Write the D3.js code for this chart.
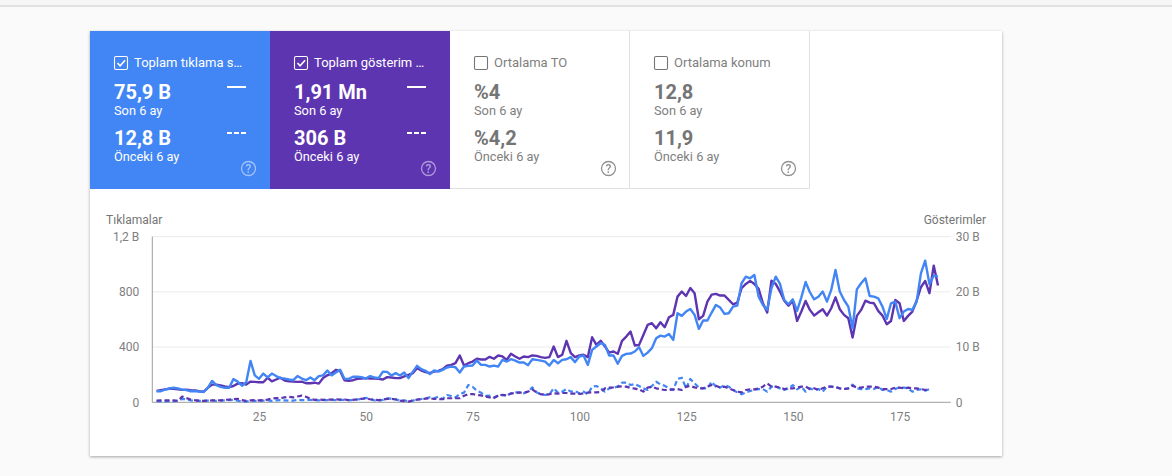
<!DOCTYPE html>
<html>
<head>
<meta charset="utf-8">
<script src="https://cdn.jsdelivr.net/npm/d3@7"></script>
<style>
  html, body { margin: 0; padding: 0; background: #fafafa; overflow: hidden; }
  svg { display: block; font-family: Roboto, sans-serif; }
</style>
</head>
<body>
<div id="body"></div>
<script>
// clicks, last 6 months (left axis)
var clicksNow = [80,80,92,100,105,100,92,88,80,82,78,75,105,155,125,112,105,105,168,150,120,145,300,195,170,208,180,208,190,175,172,165,160,190,172,160,180,160,190,195,230,195,215,235,170,170,185,185,182,172,190,180,175,222,220,
  194,211,194,216,175,220,264,240,228,204,230,223,235,252,259,254,216,259,264,266,302,271,271,259,266,259,307,295,312,302,288,288,269,312,307,302,295,266,307,283,307,312,327,291,332,339,271,380,404,428,416,339,339,279,336,351,353,368,399,336,360,392,464,483,476,495,452,645,626,657,676,633,532,592,592,650,705,686,640,645,693,700,862,910,898,922,765,705,669,826,910,857,741,710,746,662,760,871,797,746,765,802,729,814,958,802,741,693,536,818,862,898,770,765,753,693,604,717,729,609,657,676,669,729,934,1026,857,917,910];

// impressions, last 6 months, in B (right axis)
var imprNow = [2.05,2.2,2.33,2.45,2.45,2.35,2.25,2.3,2.2,2.13,2,1.9,2.63,3.2,3.2,3.05,2.88,2.75,2.95,3.38,3.45,3.2,3.75,3.7,3.63,3.63,4.45,3.8,4.13,4.45,3.95,3.8,3.75,3.7,3.75,3.45,3.45,3.55,3.38,4.38,4.88,5.25,5.88,5.63,4,3.88,4,4.25,4.3,4.38,4.3,4.3,4.25,4.13,4.55,
  4.5,4.38,4.38,4.68,4.98,5.28,6.18,5.75,5.45,5.28,5.58,5.7,6,6.65,6.78,7.08,8.48,6.65,7.08,7.38,7.88,7.75,7.75,8.23,7.88,8.48,8.3,7.68,8.78,8.3,7.88,8.3,8.18,8.48,8.4,8.18,8.05,8.18,10.1,8.18,8.6,11.13,8.9,8.18,8.48,8.6,8.18,11.78,10.4,11.13,10.1,9,9.2,8.78,11.13,11.9,12.8,10.28,10.4,12.2,14,14.33,13.4,14.5,13.6,15.4,15.83,19.13,20.05,19.25,20.7,19.75,15.03,15.65,18.23,19.5,19.63,19.33,19.33,18.53,17.75,18.05,20.65,21.43,21.98,21.43,20.53,17.93,16.25,22.03,21.43,20.05,18.4,17.5,18.4,14.73,16.43,18.35,16.73,15.7,16.3,16.85,15.7,17.03,19,16.85,15.83,15.23,11.73,15.65,16.73,18.4,18.05,17.93,16.55,15.7,14.13,14.73,18.53,17.93,14.73,15.65,16.43,18.4,20.83,21.98,19.75,24.75,21.13];

// clicks, previous 6 months
var clicksPrev = [8,6,6,8,8,10,25,22,14,10,10,10,12,12,10,12,14,16,18,12,6,5,12,10,10,12,14,10,14,16,14,12,12,18,16,16,18,15,14,16,16,18,16,18,18,16,16,20,25,32,24,14,12,18,28,26,22,12,15,
  5,12,22,24,29,36,29,41,24,53,46,36,60,70,125,113,84,70,46,48,34,53,53,48,65,72,72,65,77,108,72,60,53,58,101,70,77,96,77,82,65,77,58,113,118,101,77,101,106,113,142,142,125,132,118,101,89,118,149,130,120,101,89,169,178,
  101,169,137,108,101,101,149,113,106,125,113,89,72,58,72,82,89,96,96,77,113,113,101,89,101,125,94,113,77,101,89,96,77,113,113,113,101,96,101,128,101,96,96,101,96,113,89,89,77,96,108,106,101,77,89,94,84,96];

// impressions, previous 6 months, in B
var imprPrev = [.3,.35,.35,.35,.35,.25,1.05,.75,.5,.38,.3,.25,.3,.35,.38,.35,.45,.5,.55,.63,.38,.25,.35,.38,.35,.4,.5,.7,.75,.75,.88,1,.88,1.05,1.2,1,.63,.45,.5,.45,.5,.5,.55,.5,.5,.38,.45,.55,.63,.7,.55,.45,.38,.5,.63,.63,.5,.3,.2,
  .13,.35,.48,.55,.65,.73,.6,.6,.55,.73,.73,.73,.73,1.2,1.45,1.5,1.33,1.25,1.03,.9,.78,1.2,1.33,1.25,1.58,1.68,1.75,1.75,1.93,2.35,1.75,1.45,1.45,1.45,1.63,1.58,1.68,1.68,1.58,1.58,1.5,1.63,1.75,1.8,1.8,1.88,2.53,2.65,2.7,2.83,2.9,2.83,2.6,2.48,2.35,1.93,2.65,2.83,2.53,2.35,2.23,2.23,2.35,2.4,2.23,
  2.83,2.95,2.7,2.53,2.53,2.83,3.13,3,2.65,2.83,2.53,2.23,1.93,1.8,2.23,2.35,2.35,2.53,2.83,3.43,2.83,2.83,2.65,2.4,2.53,2.53,2.65,2.83,2.83,2.4,2.53,2.23,2.53,2.83,2.83,2.7,2.53,2.4,2.53,3,2.65,2.65,2.83,2.83,2.83,2.65,2.4,2.4,2.4,2.65,2.65,2.53,2.65,2.53,2.53,2.4,2.23,2.4];

var xTicks = [25, 50, 75, 100, 125, 150, 175];
var leftTicks = [0, 400, 800, 1200];
var leftLabels = ['0', '400', '800', '1,2 B'];
var rightTicks = [0, 10, 20, 30];
var rightLabels = ['0', '10 B', '20 B', '30 B'];

var tileTitles = ['Toplam tıklama s…', 'Toplam gösterim …', 'Ortalama TO', 'Ortalama konum'];
var tileNow = ['75,9 B', '1,91 Mn', '%4', '12,8'];
var tilePrev = ['12,8 B', '306 B', '%4,2', '11,9'];
var tileFills = ['#4285f4', '#5e35b1', '#ffffff', '#ffffff'];
var tileChecked = [true, true, false, false];

var BLUE = '#4285f4', PURPLE = '#5e35b1', GREY = '#757575', TICK = '#808080';

var svg = d3.select('#body').append('svg')
    .attr('width', 1172)
    .attr('height', 476);

// page top strip and card
svg.append('rect').attr('width', 1172).attr('height', 5).attr('fill', '#f6f6f6');
svg.append('rect').attr('y', 5).attr('width', 1172).attr('height', 2).attr('fill', '#e2e2e2');

var shadow = svg.append('defs').append('filter').attr('id', 'shadow')
    .attr('x', '-3%').attr('y', '-3%').attr('width', '106%').attr('height', '108%');
shadow.append('feDropShadow').attr('dx', 0).attr('dy', 1).attr('stdDeviation', 1.6)
    .attr('flood-color', '#000').attr('flood-opacity', 0.35);

svg.append('rect')
    .attr('x', 90).attr('y', 31).attr('width', 912).attr('height', 425)
    .attr('fill', '#fff').attr('filter', 'url(#shadow)');

// tiles
function makeTile (i) {
  var on = tileChecked[i];
  var ink = on ? '#fff' : GREY;
  var g = svg.append('g').attr('transform', 'translate(' + (90 + i * 180) + ',31)');

  g.append('rect')
      .attr('width', 180).attr('height', 158)
      .attr('fill', tileFills[i]);

  // white tiles only show a right and a bottom edge
  if (!on) {
    g.append('path').attr('d', 'M0 157.5H179.5V0')
        .attr('fill', 'none').attr('stroke', '#e0e0e0');
  }

  // checkbox
  g.append('rect')
      .attr('x', 24.5).attr('y', 25.5).attr('width', 13).attr('height', 13).attr('rx', 1.5)
      .attr('fill', 'none').attr('stroke', ink).attr('stroke-width', 1.1);
  if (on) {
    g.append('path').attr('d', 'M27.5 32l2.6 2.8 5-5.6')
        .attr('fill', 'none').attr('stroke', '#fff').attr('stroke-width', 1.6);
  }

  g.append('text').attr('x', 44).attr('y', 35.5)
      .attr('font-size', 13).attr('fill', on ? '#fff' : TICK).text(tileTitles[i]);

  g.append('text').attr('x', 24).attr('y', 67.5)
      .attr('font-size', 20).attr('font-weight', 700).attr('fill', ink).text(tileNow[i]);
  g.append('text').attr('x', 24).attr('y', 84)
      .attr('font-size', 12.8).attr('fill', on ? '#fff' : TICK).text('Son 6 ay');
  g.append('text').attr('x', 24).attr('y', 113.5)
      .attr('font-size', 20).attr('font-weight', 700).attr('fill', ink).text(tilePrev[i]);
  g.append('text').attr('x', 24).attr('y', 130)
      .attr('font-size', 12.8).attr('fill', on ? '#fff' : TICK).text('Önceki 6 ay');

  if (on) {
    g.append('line').attr('x1', 137).attr('x2', 156).attr('y1', 56).attr('y2', 56)
        .attr('stroke', '#fff').attr('stroke-width', 2);
    g.append('line').attr('x1', 137).attr('x2', 156).attr('y1', 102).attr('y2', 102)
        .attr('stroke', '#fff').attr('stroke-width', 2).attr('stroke-dasharray', '5 2');
  }

  // help icon
  var help = g.append('g').attr('opacity', on ? 0.5 : 0.8);
  help.append('circle').attr('cx', 158.5).attr('cy', 137.5).attr('r', 7)
      .attr('fill', 'none').attr('stroke', on ? '#fff' : GREY).attr('stroke-width', 1.3);
  help.append('text').attr('x', 158.5).attr('y', 141.8).attr('text-anchor', 'middle')
      .attr('font-size', 12).attr('font-weight', 500).attr('fill', on ? '#fff' : GREY).text('?');
}
tileTitles.forEach(function (t, i) { makeTile(i); });

// chart
var x = d3.scaleLinear().domain([0, 187]).range([152.3, 950.8]);
var yLeft = d3.scaleLinear().domain([0, 1200]).range([402.3, 236.6]);
var yRight = d3.scaleLinear().domain([0, 30]).range([402.3, 236.6]);

function styleAxis (sel) {
  sel.select('.domain').remove();
  sel.selectAll('text')
      .attr('font-family', 'Roboto, sans-serif')
      .attr('font-size', 12)
      .attr('fill', TICK);
}

svg.append('g')
    .attr('transform', 'translate(152.3,0)')
    .call(d3.axisLeft(yLeft).tickValues(leftTicks).tickSize(0).tickPadding(13)
      .tickFormat(function (d, i) { return leftLabels[i]; }))
    .call(styleAxis);

// gridlines
svg.append('g')
    .selectAll('line')
    .data(leftTicks.slice(1))
    .join('line')
    .attr('x1', x(0)).attr('x2', x(187))
    .attr('y1', function (d) { return yLeft(d); })
    .attr('y2', function (d) { return yLeft(d); })
    .attr('stroke', '#ebebeb');

svg.append('g')
    .attr('transform', 'translate(950.8,0)')
    .call(d3.axisRight(yRight).tickValues(rightTicks).tickSize(0).tickPadding(5)
      .tickFormat(function (d, i) { return rightLabels[i]; }))
    .call(styleAxis);

svg.append('g')
    .attr('transform', 'translate(0,402.3)')
    .call(d3.axisBottom(x).tickValues(xTicks).tickSize(0).tickPadding(10).tickFormat(d3.format('d')))
    .call(styleAxis);

// baseline and left axis line
svg.append('line').attr('x1', x(0)).attr('x2', x(187))
    .attr('y1', yLeft(0)).attr('y2', yLeft(0)).attr('stroke', '#9e9e9e');
svg.append('line').attr('x1', x(0)).attr('x2', x(0))
    .attr('y1', yLeft(1200)).attr('y2', yLeft(0)).attr('stroke', '#9e9e9e');

svg.append('text').attr('x', 106).attr('y', 224)
    .attr('font-size', 12).attr('fill', GREY).text('Tıklamalar');
svg.append('text').attr('x', 986).attr('y', 224).attr('text-anchor', 'end')
    .attr('font-size', 12).attr('fill', GREY).text('Gösterimler');

function drawLine (values, scale, colour, dashed) {
  var line = d3.line()
      .x(function (d, i) { return x(i + 1); })
      .y(function (d) { return scale(d); });
  svg.append('path')
      .datum(values)
      .attr('d', line)
      .attr('fill', 'none')
      .attr('stroke', colour)
      .attr('stroke-width', dashed ? 2.2 : 2.4)
      .attr('stroke-linejoin', 'round')
      .attr('stroke-dasharray', dashed ? '5 3' : null);
}

drawLine(clicksPrev, yLeft, BLUE, true);
drawLine(imprPrev, yRight, PURPLE, true);
drawLine(imprNow, yRight, PURPLE, false);
drawLine(clicksNow, yLeft, BLUE, false);
</script>
</body>
</html>
